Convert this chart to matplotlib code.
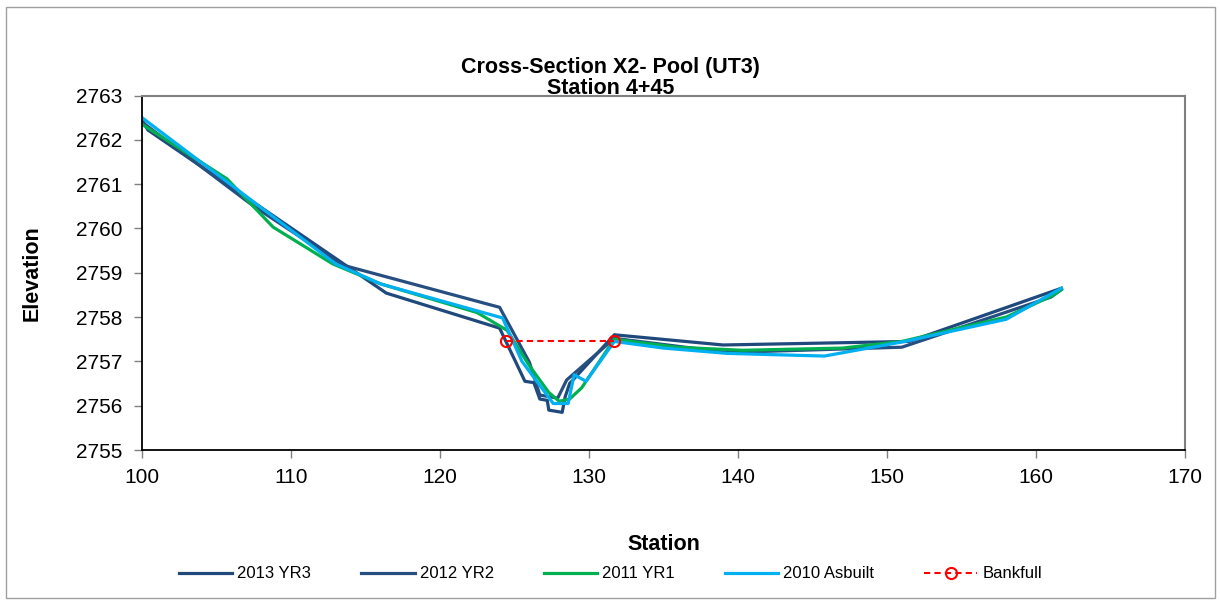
import matplotlib
matplotlib.use("Agg")
import matplotlib.pyplot as plt
from matplotlib.patches import Rectangle

plt.rcParams['font.family'] = ['Liberation Sans', 'DejaVu Sans']

# ---- data ----
x_2013 = [100.0, 100.4, 116.4, 124.0, 125.7, 126.3, 126.7, 127.2, 127.3, 128.2, 128.4, 128.7, 131.7, 139.0, 151.5, 161.7]
y_2013 = [2762.45, 2762.22, 2758.54, 2757.75, 2756.55, 2756.52, 2756.15, 2756.12, 2755.9, 2755.85, 2756.2, 2756.5, 2757.6, 2757.37, 2757.45, 2758.65]

x_2012 = [100.0, 107.5, 113.5, 124.0, 126.0, 126.7, 127.9, 128.5, 131.7, 139.3, 151.0, 161.0, 161.7]
y_2012 = [2762.4, 2760.5, 2759.17, 2758.22, 2756.98, 2756.24, 2756.17, 2756.58, 2757.52, 2757.2, 2757.32, 2758.45, 2758.62]

x_2011 = [100.0, 105.7, 108.8, 112.8, 116.0, 122.5, 124.5, 126.0, 127.3, 128.0, 128.7, 129.5, 131.7, 135.9, 140.3, 147.0, 151.0, 158.0, 161.2, 161.7]
y_2011 = [2762.35, 2761.12, 2760.03, 2759.2, 2758.75, 2758.1, 2757.7, 2756.9, 2756.3, 2756.1, 2756.15, 2756.4, 2757.5, 2757.32, 2757.25, 2757.3, 2757.45, 2758.0, 2758.5, 2758.62]

x_2010 = [100.0, 113.0, 116.0, 124.2, 125.5, 127.6, 128.6, 129.0, 129.8, 131.7, 135.0, 139.3, 145.8, 151.2, 158.0, 161.7]
y_2010 = [2762.5, 2759.2, 2758.75, 2757.98, 2757.0, 2756.05, 2756.05, 2756.7, 2756.55, 2757.45, 2757.3, 2757.18, 2757.12, 2757.45, 2757.95, 2758.65]

x_bankfull = [124.4, 131.7]
y_bankfull = [2757.45, 2757.45]

x_ticks = [100, 110, 120, 130, 140, 150, 160, 170]
y_ticks = [2755, 2756, 2757, 2758, 2759, 2760, 2761, 2762, 2763]

title_lines = ["Cross-Section X2- Pool (UT3)", "Station 4+45"]

# ---- figure ----
fig = plt.figure(figsize=(12.21, 6.04), dpi=100)
fig.patches.append(Rectangle((6/1221, 6/604), 1 - 12/1221, 1 - 13/604,
                             transform=fig.transFigure, fill=False,
                             edgecolor='#a0a0a0', linewidth=1.0))
ax = fig.add_axes([142/1221, 1 - 450/604, (1185 - 142)/1221, (450 - 95.5)/604])

lw = 2.3
ax.plot(x_2013, y_2013, color='#1F497D', lw=lw, label='2013 YR3')
ax.plot(x_2012, y_2012, color='#264E80', lw=lw, label='2012 YR2')
ax.plot(x_2011, y_2011, color='#00B050', lw=lw, label='2011 YR1')
ax.plot(x_2010, y_2010, color='#00B0F0', lw=lw, label='2010 Asbuilt')
ax.plot(x_bankfull, y_bankfull, color='#FF0000', lw=1.5, ls=(0, (3, 2)),
        marker='o', markersize=8, markerfacecolor='none', markeredgecolor='#FF0000',
        markeredgewidth=1.5, label='Bankfull')

ax.set_xlim(100, 170)
ax.set_ylim(2755, 2763)
ax.set_xticks(x_ticks)
ax.set_yticks(y_ticks)
ax.tick_params(axis='both', direction='out', length=6, width=1, labelsize=15, color='#808080')
ax.tick_params(axis='y', pad=8)
ax.tick_params(axis='x', pad=7)
for s in ['left', 'bottom']:
    ax.spines[s].set_color('black')
    ax.spines[s].set_linewidth(1.3)
for s in ['top', 'right']:
    ax.spines[s].set_color('#808080')
    ax.spines[s].set_linewidth(1.5)

ax.set_xlabel('Station', fontsize=15.5, fontweight='bold', labelpad=34)
ax.set_ylabel('Elevation', fontsize=15.5, fontweight='bold', labelpad=24)
fig.text(0.5, 1 - 68/604, title_lines[0], ha='center', va='center', fontsize=15.5, fontweight='bold')
fig.text(0.5, 1 - 89/604, title_lines[1], ha='center', va='center', fontsize=15.5, fontweight='bold')

fig.legend(loc='center', bbox_to_anchor=(0.5, 1 - 574/604), ncol=5, frameon=False,
           fontsize=12, handlelength=3.2, columnspacing=3.0, handletextpad=0.3)

fig.savefig('out.png', dpi=100)
